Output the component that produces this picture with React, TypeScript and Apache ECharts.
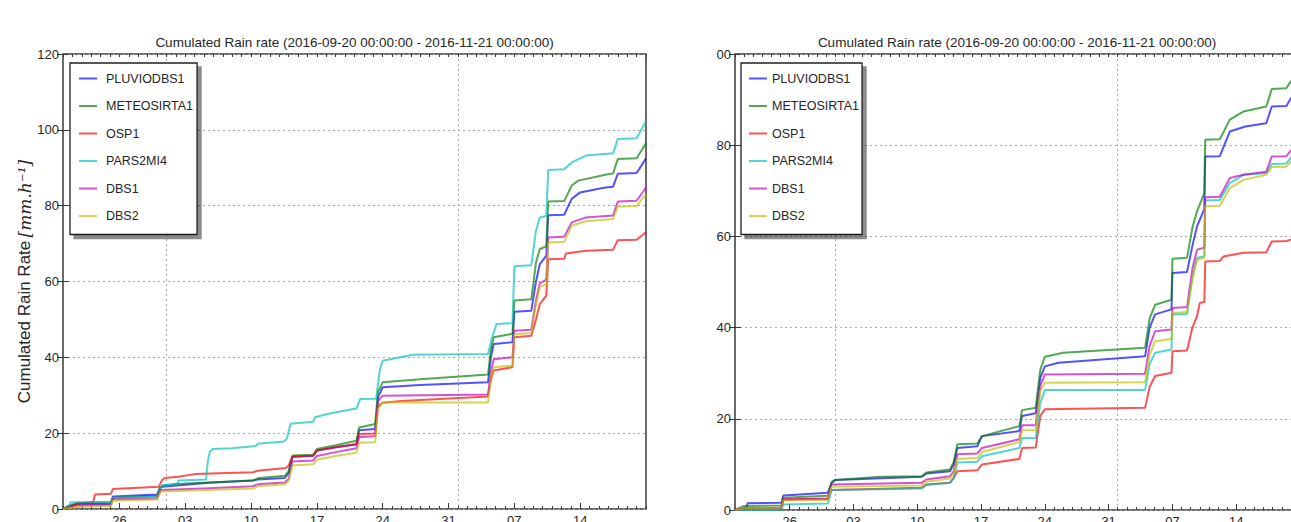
import React, { useEffect, useRef } from 'react';
import * as echarts from 'echarts';

// ---------- data (days since 2016-09-20 00:00, cumulated rain) ----------
const TITLE = 'Cumulated Rain rate (2016-09-20 00:00:00 - 2016-11-21 00:00:00)';
const SERIES_NAMES = ['PLUVIODBS1', 'METEOSIRTA1', 'OSP1', 'PARS2MI4', 'DBS1', 'DBS2'];
const SERIES_COLORS = ['#0000ff', '#008000', '#ff0000', '#00bfbf', '#bf00bf', '#bfbf00'];
const TICK_DAYS = [6, 13, 20, 27, 34, 41, 48, 55];
const TICK_LABELS = ['26', '03', '10', '17', '24', '31', '07', '14'];
const MONTH_DAYS = [11, 42];
const DAY_MAX = 62;
const LEFT_Y_MAX = 120;
const RIGHT_Y_MAX = 100;

const L_PLUVIODBS1 = [[0,0],[0.5,0.5],[1.4,1.3],[5.1,1.4],[5.3,3.3],[10.0,3.8],[10.3,5.5],[10.6,5.9],[15.5,6.9],[20.2,7.5],[20.7,7.8],[23.6,8.2],[24.0,9.5],[24.4,13.8],[26.6,14.0],[27.0,15.4],[29.0,16.3],[31.2,17.1],[31.5,20.8],[33.2,21.1],[33.5,29.5],[34.0,32.1],[38.0,32.7],[45.2,33.4],[45.5,40.0],[45.8,43.5],[47.8,44.0],[48.0,52.0],[49.8,52.3],[50.3,60.0],[50.7,64.5],[51.4,66.8],[51.6,77.5],[53.3,77.6],[54.1,81.8],[55.0,83.5],[57.5,84.7],[58.5,85.0],[59.0,88.4],[61.0,88.6],[61.5,90.5],[62.0,92.5]];
const L_METEOSIRTA1 = [[0,0],[0.5,0.8],[1.5,1.5],[5.1,1.8],[5.3,3.0],[10.0,3.5],[10.3,5.5],[10.6,6.2],[12.0,6.6],[15.5,7.0],[20.2,7.5],[20.7,8.1],[23.6,8.8],[24.0,10.0],[24.4,14.1],[26.6,14.3],[27.0,15.8],[29.0,16.8],[31.2,18.0],[31.5,21.5],[33.2,22.4],[33.5,31.0],[34.0,33.4],[38.0,34.2],[45.2,35.5],[45.5,42.0],[45.8,45.3],[47.8,46.2],[48.0,55.0],[49.8,55.3],[50.3,65.0],[50.7,68.5],[51.4,69.3],[51.6,81.1],[53.3,81.2],[54.1,85.3],[54.8,86.6],[57.8,88.2],[58.5,88.5],[59.0,92.3],[61.0,92.5],[61.5,94.5],[62.0,96.5]];
const L_OSP1 = [[0,0],[1.8,1.5],[3.2,1.8],[3.4,3.8],[5.1,4.0],[5.3,5.3],[10.2,5.9],[10.5,7.5],[10.8,8.2],[12.3,8.5],[14.0,9.2],[20.2,9.7],[20.7,10.1],[23.7,10.8],[24.0,11.5],[24.4,13.8],[26.6,14.1],[27.0,15.4],[29.0,16.3],[31.2,17.1],[31.5,19.8],[33.2,19.9],[33.5,27.0],[34.0,28.0],[36.0,28.5],[45.2,29.7],[45.5,34.0],[45.8,36.5],[47.8,37.4],[48.0,45.3],[49.8,45.7],[50.3,50.0],[50.7,54.0],[51.4,56.3],[51.6,65.9],[53.3,66.0],[53.5,67.4],[55.6,68.1],[58.5,68.4],[59.0,70.9],[61.0,71.0],[61.5,72.0],[62.0,73.0]];
const L_PARS2MI4 = [[0,0],[0.6,0.3],[0.8,1.8],[5.1,1.9],[5.3,3.0],[10.0,3.2],[10.3,5.0],[10.6,6.2],[12.1,6.5],[12.3,7.5],[15.2,7.8],[15.4,12.5],[15.6,15.0],[15.9,15.8],[18.0,16.0],[20.5,16.6],[20.7,17.2],[23.5,17.8],[23.8,18.5],[24.2,22.5],[26.6,23.0],[26.8,24.2],[28.0,25.0],[30.0,26.0],[31.2,26.5],[31.6,29.0],[33.3,29.1],[33.7,36.9],[34.0,39.1],[37.2,40.7],[45.2,40.9],[45.6,45.0],[46.1,48.8],[47.8,49.0],[48.0,64.0],[49.8,64.3],[50.3,73.4],[50.7,76.9],[51.4,77.3],[51.6,89.4],[53.3,89.6],[54.1,91.4],[55.6,93.2],[58.5,93.8],[59.0,97.6],[61.0,97.8],[61.5,100.0],[62.0,102.3]];
const L_DBS1 = [[0,0],[1.0,0.6],[2.0,1.0],[5.1,1.1],[5.3,2.6],[10.0,2.8],[10.4,5.0],[15.5,5.5],[20.2,6.0],[20.7,6.5],[23.6,7.0],[24.0,8.0],[24.4,12.5],[26.6,12.8],[27.0,14.0],[29.0,15.0],[31.2,16.0],[31.5,19.0],[33.2,19.2],[33.5,28.5],[34.0,29.9],[45.2,30.2],[45.5,36.0],[45.8,39.5],[47.8,40.0],[48.0,47.0],[49.8,47.3],[50.3,55.0],[50.7,59.5],[51.4,60.5],[51.6,71.6],[53.3,71.8],[54.1,75.6],[55.6,76.9],[58.5,77.4],[59.0,81.1],[61.0,81.3],[61.5,83.0],[62.0,84.8]];
const L_DBS2 = [[0,0],[1.5,0.5],[5.1,0.8],[5.3,2.2],[10.0,2.5],[10.4,4.6],[15.5,5.0],[20.2,5.4],[20.7,6.0],[23.6,6.5],[24.0,7.5],[24.4,11.5],[26.6,11.8],[27.0,13.0],[29.0,14.0],[31.2,14.8],[31.5,17.5],[33.2,17.6],[33.5,26.5],[34.0,28.1],[45.2,28.1],[45.5,34.5],[45.8,37.4],[47.8,37.8],[48.0,46.1],[49.8,46.4],[50.3,54.0],[50.7,58.5],[51.4,59.3],[51.6,70.3],[53.3,70.5],[54.1,74.7],[55.6,75.9],[58.5,76.5],[59.0,79.7],[61.0,79.9],[61.5,81.5],[62.0,83.0]];

const R_PLUVIODBS1 = [[0,0],[1.2,0.3],[1.4,1.5],[5.1,1.6],[5.3,3.2],[10.2,3.8],[10.6,6.0],[11.0,6.6],[20.5,7.3],[21.0,8.0],[23.6,8.5],[24.0,10.1],[24.4,13.6],[26.6,14.0],[27.1,16.2],[31.2,17.3],[31.5,20.6],[33.0,21.2],[33.5,29.0],[34.0,31.5],[35.5,32.3],[45.0,33.7],[45.5,40.0],[46.1,42.9],[47.9,44.0],[48.0,52.0],[49.6,52.2],[50.2,58.0],[50.7,62.2],[51.5,66.0],[51.6,77.5],[53.2,77.6],[54.3,83.0],[56.0,84.1],[58.3,84.8],[58.9,88.5],[60.5,88.6],[61.0,90.3],[62.0,92.0]];
const R_METEOSIRTA1 = [[0,0],[1.0,0.9],[5.1,1.0],[5.3,2.7],[10.2,3.1],[10.6,6.0],[11.0,6.6],[16.0,7.3],[20.5,7.4],[21.0,8.2],[23.6,8.9],[24.0,10.5],[24.4,14.4],[26.6,14.6],[27.1,16.2],[31.2,18.4],[31.5,21.9],[33.0,22.4],[33.5,30.8],[34.0,33.6],[36.0,34.5],[45.0,35.6],[45.5,42.0],[46.1,45.0],[47.9,46.1],[48.0,55.1],[49.6,55.3],[50.2,62.0],[50.7,65.5],[51.5,69.5],[51.6,81.2],[53.2,81.3],[54.3,85.6],[55.8,87.4],[58.3,88.5],[58.9,92.3],[60.5,92.5],[61.0,94.0],[62.0,96.0]];
const R_OSP1 = [[0,0],[1.0,0.4],[5.1,0.5],[5.3,2.3],[10.2,2.5],[10.6,4.4],[20.5,4.9],[21.0,5.6],[23.6,6.0],[24.0,7.0],[24.4,8.5],[26.6,8.7],[27.1,10.0],[31.2,11.2],[31.5,13.6],[33.0,13.7],[33.5,20.6],[34.0,22.1],[45.0,22.4],[45.5,27.0],[46.1,29.4],[47.9,30.1],[48.0,34.8],[49.6,35.0],[50.2,40.0],[50.7,42.5],[51.0,45.4],[51.5,45.6],[51.6,54.5],[53.2,54.6],[53.6,55.6],[55.8,56.4],[58.3,56.5],[58.9,58.9],[60.5,59.0],[61.0,59.3],[62.0,60.0]];
const R_PARS2MI4 = [[0,0],[5.1,0],[5.3,1.2],[10.2,1.4],[10.6,4.4],[20.5,4.7],[21.0,5.5],[23.6,6.0],[24.0,7.0],[24.4,10.4],[26.6,10.6],[27.1,11.8],[31.2,13.6],[31.5,15.8],[33.0,15.8],[33.5,23.5],[34.0,26.3],[45.0,26.3],[45.5,32.0],[46.1,34.5],[47.9,35.2],[48.0,42.9],[49.6,43.0],[50.2,51.0],[50.7,55.3],[51.5,55.6],[51.6,67.9],[53.2,68.0],[54.3,71.7],[55.8,73.5],[58.3,73.9],[58.9,75.9],[60.5,76.0],[61.0,77.2],[62.0,78.0]];
const R_DBS1 = [[0,0],[1.0,0.4],[5.1,0.5],[5.3,2.3],[10.2,2.4],[10.6,5.6],[20.5,6.0],[21.0,6.7],[23.6,7.4],[24.0,8.5],[24.4,12.2],[26.6,12.4],[27.1,13.6],[31.2,15.5],[31.5,18.6],[33.0,18.6],[33.5,27.2],[34.0,29.7],[45.0,29.9],[45.5,36.0],[46.1,39.2],[47.9,39.6],[48.0,44.3],[49.6,44.5],[50.2,53.0],[50.7,57.1],[51.5,57.5],[51.6,68.6],[53.2,68.7],[54.3,72.8],[55.8,73.5],[58.3,74.2],[58.9,77.5],[60.5,77.6],[61.0,78.8],[62.0,79.5]];
const R_DBS2 = [[0,0],[1.0,0.4],[5.1,0.5],[5.3,2.1],[10.2,2.2],[10.6,5.1],[20.5,5.4],[21.0,6.2],[23.6,6.9],[24.0,8.0],[24.4,11.2],[26.6,11.4],[27.1,12.7],[31.2,14.9],[31.5,17.5],[33.0,17.5],[33.5,26.1],[34.0,27.9],[45.0,28.0],[45.5,34.0],[46.1,37.0],[47.9,37.5],[48.0,43.2],[49.6,43.4],[50.2,51.0],[50.7,54.9],[51.5,55.3],[51.6,66.6],[53.2,66.7],[54.3,70.6],[55.8,72.4],[58.3,73.5],[58.9,75.2],[60.5,75.3],[61.0,76.4],[62.0,77.0]];

const LEFT_DATA = [L_PLUVIODBS1, L_METEOSIRTA1, L_OSP1, L_PARS2MI4, L_DBS1, L_DBS2];
const RIGHT_DATA = [R_PLUVIODBS1, R_METEOSIRTA1, R_OSP1, R_PARS2MI4, R_DBS1, R_DBS2];

// ---------- fonts ----------
function hasFont(name: string): boolean {
  try {
    const ctx = document.createElement('canvas').getContext('2d');
    if (!ctx) return false;
    const s = 'PLUVIODBS1 METEOSIRTA1 0123456789 Cumulated';
    ctx.font = '40px monospace';
    const a = ctx.measureText(s).width;
    ctx.font = `40px '${name}', monospace`;
    const b = ctx.measureText(s).width;
    return Math.abs(a - b) > 0.5;
  } catch (e) {
    return false;
  }
}

function buildOption() {
  const narrow = hasFont('Liberation Sans Narrow');
  const FAMILY = narrow ? "'Liberation Sans Narrow', 'Liberation Sans', sans-serif" : "'Liberation Sans', sans-serif";
  const titleSize = narrow ? 16 : 13.5;
  const tickSize = narrow ? 14 : 13;
  const legendSize = narrow ? 15 : 12.5;
  const textColor = '#262626';

  const grids = [
    { left: 63, top: 54, width: 583, height: 455 },
    { left: 735, top: 54, width: 565, height: 456 },
  ].map((g) => ({ ...g, show: true, borderColor: '#3a3a3a', borderWidth: 1.5, backgroundColor: 'transparent', containLabel: false }));

  const xAxis: any[] = [];
  const yAxis: any[] = [];
  const gridLineStyle = { type: [2, 3], color: '#a8a8a8', width: 1 };

  [0, 1].forEach((g) => {
    // main bottom axis with weekly labels
    xAxis.push({
      type: 'value', gridIndex: g, min: 0, max: DAY_MAX, position: 'bottom',
      axisLine: { show: false },
      axisTick: { show: true, inside: true, length: 6, customValues: TICK_DAYS, lineStyle: { color: '#3a3a3a', width: 1 } },
      axisLabel: {
        customValues: TICK_DAYS,
        formatter: (v: number) => {
          const i = TICK_DAYS.indexOf(Math.round(v));
          return i >= 0 ? TICK_LABELS[i] : '';
        },
        margin: 5, fontSize: tickSize, fontFamily: FAMILY, color: textColor,
      },
      splitLine: { show: false },
    });
    // daily minor ticks (bottom)
    xAxis.push({
      type: 'value', gridIndex: g, min: 0, max: DAY_MAX, interval: 1, position: 'bottom',
      axisLine: { show: false },
      axisTick: { show: true, inside: true, length: 3, lineStyle: { color: '#3a3a3a', width: 1 } },
      axisLabel: { show: false }, splitLine: { show: false },
    });
    // daily minor ticks (top)
    xAxis.push({
      type: 'value', gridIndex: g, min: 0, max: DAY_MAX, interval: 1, position: 'top',
      axisLine: { show: false },
      axisTick: { show: true, inside: true, length: 3, lineStyle: { color: '#3a3a3a', width: 1 } },
      axisLabel: { show: false }, splitLine: { show: false },
    });
    // month grid lines
    xAxis.push({
      type: 'value', gridIndex: g, min: 0, max: DAY_MAX, position: 'bottom',
      axisLine: { show: false },
      axisTick: { show: false, customValues: MONTH_DAYS },
      axisLabel: { show: false },
      splitLine: { show: true, lineStyle: gridLineStyle },
    });

    const yMax = g === 0 ? LEFT_Y_MAX : RIGHT_Y_MAX;
    const yLeft: any = {
      type: 'value', gridIndex: g, min: 0, max: yMax, interval: 20, position: 'left',
      axisLine: { show: false },
      axisTick: { show: true, inside: true, length: 6, lineStyle: { color: '#3a3a3a' } },
      axisLabel: {
        margin: 4, fontSize: tickSize, fontFamily: FAMILY, color: textColor,
        formatter: (v: number) => (g === 1 && v === 100 ? '00' : String(v)),
      },
      splitLine: { show: true, lineStyle: gridLineStyle },
    };
    if (g === 0) {
      yLeft.name = '{a|Cumulated Rain Rate} {b|[mm.h⁻¹]}';
      yLeft.nameLocation = 'middle';
      yLeft.nameRotate = 90;
      yLeft.nameGap = 27;
      yLeft.nameTextStyle = {
        rich: {
          a: { fontSize: 17, fontFamily: "'Liberation Sans', sans-serif", color: textColor },
          b: { fontSize: 17, fontFamily: "'DejaVu Serif', 'Liberation Serif', serif", fontStyle: 'italic', color: textColor },
        },
      };
    }
    yAxis.push(yLeft);
    yAxis.push({
      type: 'value', gridIndex: g, min: 0, max: yMax, interval: 20, position: 'right',
      axisLine: { show: false },
      axisTick: { show: true, inside: true, length: 6, lineStyle: { color: '#3a3a3a' } },
      axisLabel: { show: false }, splitLine: { show: false },
    });
  });

  const series: any[] = [];
  [LEFT_DATA, RIGHT_DATA].forEach((panel, g) => {
    panel.forEach((data, i) => {
      series.push({
        type: 'line', name: SERIES_NAMES[i], xAxisIndex: g * 4, yAxisIndex: g * 2,
        data, symbol: 'none', showSymbol: false, silent: true,
        lineStyle: { width: 2, color: SERIES_COLORS[i], opacity: 0.68 },
        itemStyle: { color: SERIES_COLORS[i], opacity: 0.68 },
        z: 3,
      });
    });
  });

  const legendBoxes = [
    { left: 70, padding: [9, 4, 12, 8], textPad: 4 },
    { left: 741, padding: [9, 3, 12, 7], textPad: 0 },
  ];
  const legend = legendBoxes.map((b) => ({
    orient: 'vertical', left: b.left, top: 63,
    data: SERIES_NAMES,
    selectedMode: false,
    backgroundColor: '#ffffff', borderColor: '#1f1f1f', borderWidth: 1.3, borderRadius: 0,
    padding: b.padding, itemGap: 14.5, itemWidth: 18, itemHeight: 14,
    itemStyle: { opacity: 0, borderWidth: 0 },
    lineStyle: { width: 2 },
    shadowColor: 'rgba(0,0,0,0.45)', shadowOffsetX: 4, shadowOffsetY: 4, shadowBlur: 1,
    textStyle: { fontFamily: FAMILY, fontSize: legendSize, color: textColor, padding: [0, 0, 0, b.textPad] },
  }));

  const graphic = [354.5, 1017].map((cx) => ({
    type: 'text', x: cx, y: 42, silent: true,
    style: { text: TITLE, fontSize: titleSize, fontFamily: FAMILY, fill: textColor, align: 'center', verticalAlign: 'middle' },
  }));

  return {
    animation: false,
    backgroundColor: '#ffffff',
    grid: grids,
    xAxis, yAxis, series, legend, graphic,
  };
}

export default function App() {
  const ref = useRef<HTMLDivElement>(null);
  useEffect(() => {
    if (!ref.current) return;
    const chart = echarts.init(ref.current, null, { renderer: 'svg' });
    chart.setOption(buildOption() as any);
    return () => chart.dispose();
  }, []);
  return (
    <div style={{ position: 'fixed', left: 0, top: 0, width: 1291, height: 522, overflow: 'hidden', background: '#fff' }}>
      <div ref={ref} style={{ width: 1310, height: 545 }} />
    </div>
  );
}
